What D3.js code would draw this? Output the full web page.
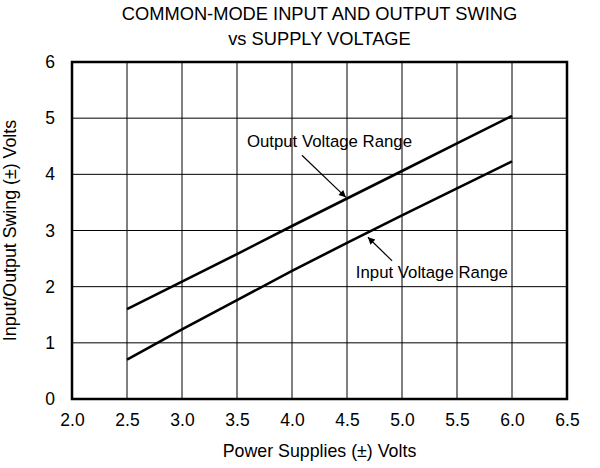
<!DOCTYPE html>
<html>
<head>
<meta charset="utf-8">
<script src="https://cdn.jsdelivr.net/npm/d3@7"></script>
<style>
  body { margin: 0; background: #fff; }
  text { font-family: "Liberation Sans", Arial, sans-serif; fill: #000; }
</style>
</head>
<body>
<div id="chart"></div>
<script>
// data
var supplyVolts = [2.5, 3.0, 3.5, 4.0, 4.5, 5.0, 5.5, 6.0];
var outputSwing = [1.60, 2.09, 2.58, 3.08, 3.57, 4.06, 4.55, 5.04];
var inputSwing = [0.70, 1.24, 1.76, 2.28, 2.78, 3.27, 3.75, 4.23];
var xTicks = [2.0, 2.5, 3.0, 3.5, 4.0, 4.5, 5.0, 5.5, 6.0, 6.5];
var yTicks = [0, 1, 2, 3, 4, 5, 6];
var titleLines = ["COMMON-MODE INPUT AND OUTPUT SWING", "vs SUPPLY VOLTAGE"];

// callouts, in data units: label start, arrow tail, arrow tip
var callouts = [
  {text: "Output Voltage Range", tx: 3.59, ty: 4.49, x0: 4.09, y0: 4.34, x1: 4.49, y1: 3.59},
  {text: "Input Voltage Range", tx: 4.58, ty: 2.15, x0: 4.91, y0: 2.46, x1: 4.69, y1: 2.88}
];

var svgWidth = 600, svgHeight = 468;
var margin = {top: 62, right: 33, bottom: 69, left: 72};
var width = svgWidth - margin.left - margin.right;
var height = svgHeight - margin.top - margin.bottom;

var svg = d3.select("#chart").append("svg")
  .attr("width", svgWidth)
  .attr("height", svgHeight);

svg.append("defs").append("marker")
  .attr("id", "arrow")
  .attr("viewBox", "0 0 10 10")
  .attr("refX", 10)
  .attr("refY", 5)
  .attr("markerUnits", "userSpaceOnUse")
  .attr("markerWidth", 10)
  .attr("markerHeight", 7)
  .attr("orient", "auto")
  .append("path")
  .attr("d", "M0,0 L10,5 L0,10 Z")
  .attr("fill", "#000");

var g = svg.append("g")
  .attr("transform", `translate(${margin.left}, ${margin.top})`);

var xScale = d3.scaleLinear().domain([2.0, 6.5]).range([0, width]);
var yScale = d3.scaleLinear().domain([0, 6]).range([height, 0]);

// grid
g.append("g").selectAll("line")
  .data(xTicks)
  .enter().append("line")
  .attr("x1", d => xScale(d)).attr("x2", d => xScale(d))
  .attr("y1", 0).attr("y2", height)
  .attr("stroke", "#000").attr("stroke-width", 1);

g.append("g").selectAll("line")
  .data(yTicks)
  .enter().append("line")
  .attr("x1", 0).attr("x2", width)
  .attr("y1", d => yScale(d)).attr("y2", d => yScale(d))
  .attr("stroke", "#000").attr("stroke-width", 1);

// axes (labels only)
var xAxis = d3.axisBottom(xScale).tickValues(xTicks).tickFormat(d3.format(".1f")).tickSize(0).tickPadding(15);
var yAxis = d3.axisLeft(yScale).tickValues(yTicks).tickFormat(d3.format("d")).tickSize(0).tickPadding(17);

var xg = g.append("g").attr("transform", `translate(0, ${height})`).call(xAxis);
var yg = g.append("g").call(yAxis);
[xg, yg].forEach(function(a) {
  a.select(".domain").remove();
  a.selectAll("text").style("font-size", "17.5px").style("font-family", "'Liberation Sans', Arial, sans-serif");
});

// frame
g.append("rect")
  .attr("x", 0).attr("y", 0)
  .attr("width", width).attr("height", height)
  .attr("fill", "none")
  .attr("stroke", "#000")
  .attr("stroke-width", 2.5);

// curves
var line = d3.line()
  .x(d => xScale(d[0]))
  .y(d => yScale(d[1]));

[outputSwing, inputSwing].forEach(function(series) {
  g.append("path")
    .datum(d3.zip(supplyVolts, series))
    .attr("d", line)
    .attr("fill", "none")
    .attr("stroke", "#000")
    .attr("stroke-width", 2.6);
});

// callouts
callouts.forEach(function(c) {
  g.append("text")
    .attr("x", xScale(c.tx))
    .attr("y", yScale(c.ty))
    .style("font-size", "16.8px")
    .text(c.text);
  g.append("line")
    .attr("x1", xScale(c.x0)).attr("y1", yScale(c.y0))
    .attr("x2", xScale(c.x1)).attr("y2", yScale(c.y1))
    .attr("stroke", "#000")
    .attr("stroke-width", 1.2)
    .attr("marker-end", "url(#arrow)");
});

// titles
svg.selectAll(".title")
  .data(titleLines)
  .enter().append("text")
  .attr("class", "title")
  .attr("x", margin.left + width / 2)
  .attr("y", (d, i) => 20 + i * 25)
  .style("text-anchor", "middle")
  .style("font-size", "18.3px")
  .text(d => d);

svg.append("text")
  .attr("x", margin.left + width / 2)
  .attr("y", 457)
  .style("text-anchor", "middle")
  .style("font-size", "17.8px")
  .text("Power Supplies (\u00B1) Volts");

svg.append("text")
  .attr("transform", `translate(16, ${margin.top + height / 2}) rotate(-90)`)
  .style("text-anchor", "middle")
  .style("font-size", "17.8px")
  .text("Input/Output Swing (\u00B1) Volts");
</script>
</body>
</html>
